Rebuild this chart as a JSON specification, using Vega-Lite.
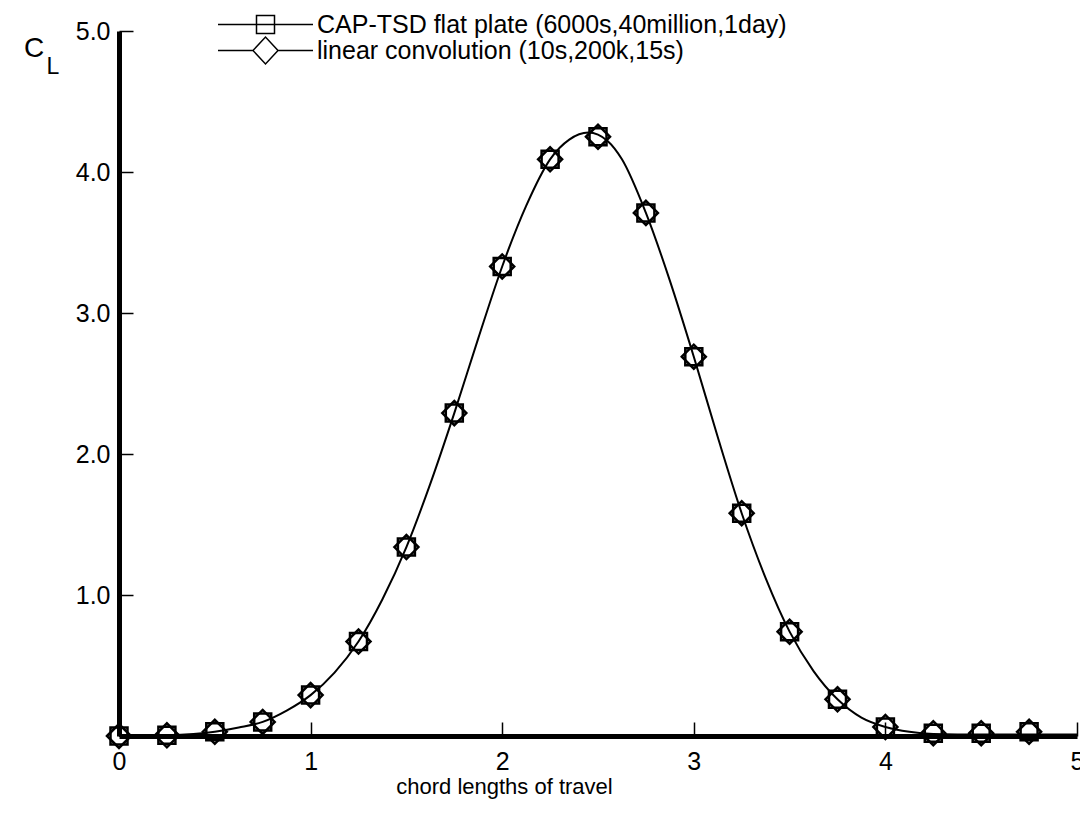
{
  "$schema": "https://vega.github.io/schema/vega-lite/v6.json",
  "width": 958,
  "height": 705,
  "autosize": {"type": "none"},
  "padding": {"left": 119, "top": 31, "right": 3, "bottom": 82},
  "background": "white",
  "config": {
    "view": {"stroke": null},
    "font": "Liberation Sans",
    "axis": {
      "grid": false,
      "domainColor": "black",
      "domainWidth": 5,
      "tickColor": "black",
      "tickWidth": 1.5,
      "tickSize": -14,
      "labelColor": "black",
      "labelFont": "Liberation Sans",
      "labelFontSize": 25,
      "labelFlush": false,
      "titleColor": "black",
      "titleFont": "Liberation Sans",
      "titleFontWeight": "normal",
      "titleFontSize": 22
    }
  },
  "title": {
    "text": "C",
    "anchor": "start",
    "frame": "group",
    "orient": "top",
    "offset": 0,
    "dx": -95,
    "dy": 51,
    "font": "Liberation Sans",
    "fontSize": 28,
    "fontWeight": "normal",
    "color": "black"
  },
  "datasets": {
    "markers": [
      {"x": 0, "y": 0.0, "series": "CAP-TSD flat plate (6000s,40million,1day)"},
      {"x": 0.25, "y": 0.005, "series": "CAP-TSD flat plate (6000s,40million,1day)"},
      {"x": 0.5, "y": 0.03, "series": "CAP-TSD flat plate (6000s,40million,1day)"},
      {"x": 0.75, "y": 0.1, "series": "CAP-TSD flat plate (6000s,40million,1day)"},
      {"x": 1.0, "y": 0.29, "series": "CAP-TSD flat plate (6000s,40million,1day)"},
      {"x": 1.25, "y": 0.67, "series": "CAP-TSD flat plate (6000s,40million,1day)"},
      {"x": 1.5, "y": 1.34, "series": "CAP-TSD flat plate (6000s,40million,1day)"},
      {"x": 1.75, "y": 2.29, "series": "CAP-TSD flat plate (6000s,40million,1day)"},
      {"x": 2.0, "y": 3.33, "series": "CAP-TSD flat plate (6000s,40million,1day)"},
      {"x": 2.25, "y": 4.09, "series": "CAP-TSD flat plate (6000s,40million,1day)"},
      {"x": 2.5, "y": 4.25, "series": "CAP-TSD flat plate (6000s,40million,1day)"},
      {"x": 2.75, "y": 3.71, "series": "CAP-TSD flat plate (6000s,40million,1day)"},
      {"x": 3.0, "y": 2.69, "series": "CAP-TSD flat plate (6000s,40million,1day)"},
      {"x": 3.25, "y": 1.58, "series": "CAP-TSD flat plate (6000s,40million,1day)"},
      {"x": 3.5, "y": 0.74, "series": "CAP-TSD flat plate (6000s,40million,1day)"},
      {"x": 3.75, "y": 0.26, "series": "CAP-TSD flat plate (6000s,40million,1day)"},
      {"x": 4.0, "y": 0.064, "series": "CAP-TSD flat plate (6000s,40million,1day)"},
      {"x": 4.25, "y": 0.02, "series": "CAP-TSD flat plate (6000s,40million,1day)"},
      {"x": 4.5, "y": 0.02, "series": "CAP-TSD flat plate (6000s,40million,1day)"},
      {"x": 4.75, "y": 0.03, "series": "CAP-TSD flat plate (6000s,40million,1day)"},
      {"x": 0, "y": 0.0, "series": "linear convolution (10s,200k,15s)"},
      {"x": 0.25, "y": 0.005, "series": "linear convolution (10s,200k,15s)"},
      {"x": 0.5, "y": 0.03, "series": "linear convolution (10s,200k,15s)"},
      {"x": 0.75, "y": 0.1, "series": "linear convolution (10s,200k,15s)"},
      {"x": 1.0, "y": 0.29, "series": "linear convolution (10s,200k,15s)"},
      {"x": 1.25, "y": 0.67, "series": "linear convolution (10s,200k,15s)"},
      {"x": 1.5, "y": 1.34, "series": "linear convolution (10s,200k,15s)"},
      {"x": 1.75, "y": 2.29, "series": "linear convolution (10s,200k,15s)"},
      {"x": 2.0, "y": 3.33, "series": "linear convolution (10s,200k,15s)"},
      {"x": 2.25, "y": 4.09, "series": "linear convolution (10s,200k,15s)"},
      {"x": 2.5, "y": 4.25, "series": "linear convolution (10s,200k,15s)"},
      {"x": 2.75, "y": 3.71, "series": "linear convolution (10s,200k,15s)"},
      {"x": 3.0, "y": 2.69, "series": "linear convolution (10s,200k,15s)"},
      {"x": 3.25, "y": 1.58, "series": "linear convolution (10s,200k,15s)"},
      {"x": 3.5, "y": 0.74, "series": "linear convolution (10s,200k,15s)"},
      {"x": 3.75, "y": 0.26, "series": "linear convolution (10s,200k,15s)"},
      {"x": 4.0, "y": 0.064, "series": "linear convolution (10s,200k,15s)"},
      {"x": 4.25, "y": 0.02, "series": "linear convolution (10s,200k,15s)"},
      {"x": 4.5, "y": 0.02, "series": "linear convolution (10s,200k,15s)"},
      {"x": 4.75, "y": 0.03, "series": "linear convolution (10s,200k,15s)"}
    ],
    "curve": [
      {"x": 0, "y": 0.0},
      {"x": 0.25, "y": 0.005},
      {"x": 0.5, "y": 0.03},
      {"x": 0.625, "y": 0.06},
      {"x": 0.75, "y": 0.1},
      {"x": 0.875, "y": 0.18},
      {"x": 1.0, "y": 0.29},
      {"x": 1.125, "y": 0.45},
      {"x": 1.25, "y": 0.67},
      {"x": 1.375, "y": 0.97},
      {"x": 1.5, "y": 1.34},
      {"x": 1.625, "y": 1.79},
      {"x": 1.75, "y": 2.29},
      {"x": 1.875, "y": 2.82},
      {"x": 2.0, "y": 3.33},
      {"x": 2.125, "y": 3.76},
      {"x": 2.25, "y": 4.09},
      {"x": 2.35, "y": 4.23},
      {"x": 2.45, "y": 4.28},
      {"x": 2.55, "y": 4.22},
      {"x": 2.625, "y": 4.09},
      {"x": 2.75, "y": 3.71},
      {"x": 2.875, "y": 3.23},
      {"x": 3.0, "y": 2.69},
      {"x": 3.125, "y": 2.12},
      {"x": 3.25, "y": 1.58},
      {"x": 3.375, "y": 1.12},
      {"x": 3.5, "y": 0.74},
      {"x": 3.625, "y": 0.46},
      {"x": 3.75, "y": 0.26},
      {"x": 3.875, "y": 0.13},
      {"x": 4.0, "y": 0.064},
      {"x": 4.125, "y": 0.03},
      {"x": 4.25, "y": 0.015},
      {"x": 4.5, "y": 0.01},
      {"x": 4.75, "y": 0.01},
      {"x": 5.0, "y": 0.01}
    ]
  },
  "encoding": {
    "x": {
      "field": "x",
      "type": "quantitative",
      "scale": {"domain": [0, 5], "nice": false, "zero": false},
      "axis": {
        "values": [0, 1, 2, 3, 4, 5],
        "format": "d",
        "title": "chord lengths of travel",
        "labelPadding": 27,
        "titleX": 385,
        "titleY": 40,
        "titleBaseline": "top",
        "titleAlign": "center"
      }
    },
    "y": {
      "field": "y",
      "type": "quantitative",
      "scale": {"domain": [0, 5], "nice": false, "zero": false},
      "axis": {
        "values": [1, 2, 3, 4, 5],
        "format": ".1f",
        "title": "L",
        "titleAngle": 0,
        "titleFontSize": 23,
        "titleAlign": "left",
        "titleBaseline": "top",
        "titleAnchor": null,
        "titleX": -73,
        "titleY": 24,
        "labelPadding": 23
      }
    }
  },
  "layer": [
    {
      "data": {"name": "curve"},
      "mark": {"type": "line", "color": "black", "strokeWidth": 2, "interpolate": "monotone"}
    },
    {
      "data": {"name": "markers"},
      "mark": {"type": "point", "filled": false, "color": "black", "strokeWidth": 2.5, "opacity": 1},
      "encoding": {
        "shape": {
          "field": "series",
          "type": "nominal",
          "scale": {
            "domain": ["CAP-TSD flat plate (6000s,40million,1day)", "linear convolution (10s,200k,15s)"],
            "range": ["square", "diamond"]
          },
          "legend": null
        },
        "size": {
          "field": "series",
          "type": "nominal",
          "scale": {
            "domain": ["CAP-TSD flat plate (6000s,40million,1day)", "linear convolution (10s,200k,15s)"],
            "range": [289, 576]
          },
          "legend": null
        }
      }
    },
    {
      "data": {"name": "markers"},
      "transform": [{"filter": "false"}],
      "mark": {"type": "point", "filled": false, "color": "black", "strokeWidth": 1.5},
      "encoding": {
        "shape": {
          "field": "series",
          "type": "nominal",
          "scale": {
            "domain": ["CAP-TSD flat plate (6000s,40million,1day)", "linear convolution (10s,200k,15s)"],
            "range": [
              "M-4.75,0H4.75M-0.9,-0.9H0.9V0.9H-0.9Z",
              "M-4.75,0H-1.25L0,-1.35L1.25,0H4.75M1.25,0L0,1.35L-1.25,0"
            ]
          },
          "legend": {
            "title": null,
            "orient": "none",
            "legendX": 134,
            "legendY": -19,
            "padding": 0,
            "symbolSize": 400,
            "symbolStrokeWidth": 1.5,
            "symbolStrokeColor": "black",
            "symbolFillColor": "transparent",
            "symbolOpacity": 1,
            "labelFont": "Liberation Sans",
            "labelFontSize": 25,
            "labelColor": "black",
            "labelOffset": 39,
            "labelLimit": 0,
            "rowPadding": -4
          }
        }
      }
    }
  ],
  "resolve": {"scale": {"shape": "independent", "size": "independent"}, "legend": {"shape": "independent"}}
}
